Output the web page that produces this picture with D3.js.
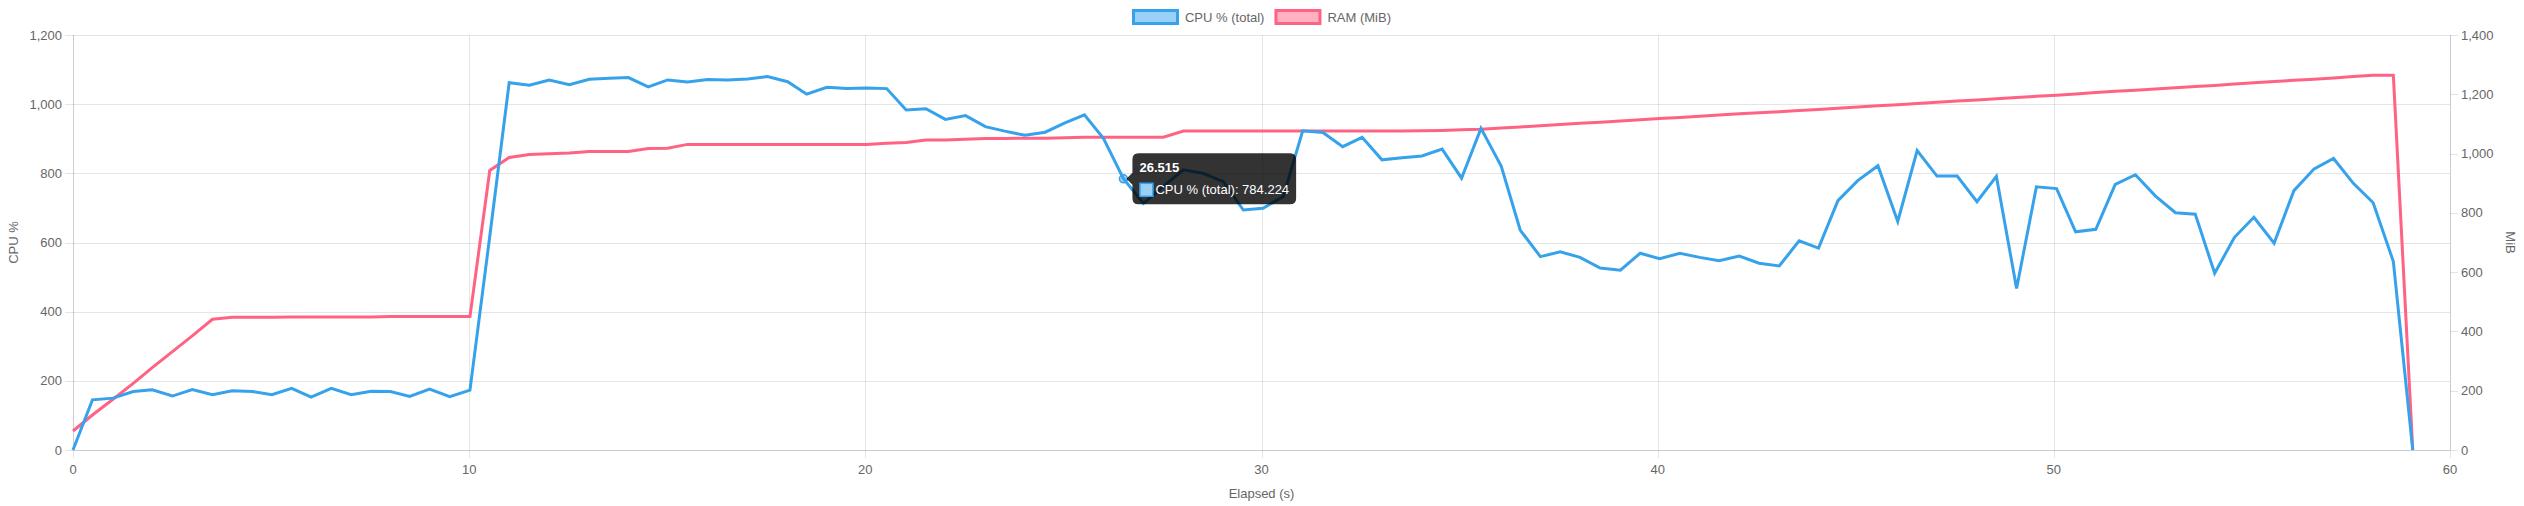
<!DOCTYPE html>
<html><head><meta charset="utf-8">
<script src="https://cdn.jsdelivr.net/npm/d3@7"></script>
<style>html,body{margin:0;padding:0;background:#fff;} svg{display:block;}</style>
</head><body><svg id="chart" width="2524" height="506"></svg>
<script>
// ---- data ----
const times = [0,0.49,1.01,1.52,2.0,2.51,3.01,3.52,4.02,4.53,5.02,5.52,6.01,6.52,7.02,7.53,8.01,8.5,9.0,9.51,
10.02,10.52,11.01,11.52,12.02,12.53,13.03,13.54,14.02,14.52,15.01,15.51,16.02,16.52,17.03,17.53,18.04,18.52,19.03,19.53,
20.03,20.54,21.03,21.53,22.02,22.53,23.03,23.52,24.03,24.54,25.04,25.53,26.01,26.515,27.02,27.52,28.03,28.53,29.04,29.54,
30.04,30.55,31.04,31.55,32.05,32.54,33.04,33.55,34.05,34.56,35.05,35.54,36.05,36.53,37.04,37.54,38.04,38.55,39.06,39.56,
40.05,40.56,41.06,41.55,42.06,42.56,43.07,43.57,44.06,44.55,45.05,45.56,46.06,46.55,47.05,47.56,48.06,48.55,49.06,49.56,
50.07,50.55,51.06,51.55,52.06,52.56,53.07,53.57,54.06,54.56,55.05,55.56,56.06,56.57,57.06,57.56,58.06,58.57,59.06];
const cpuValues = [0,145,150,169,174,156,175,160,171,169,
160,178,153,178,160,170,169,155,176,154,
173,618,1062,1055,1070,1056,1072,1075,1077,1050,
1070,1064,1071,1070,1073,1080,1065,1029,1049,1045,
1047,1045,983,987,956,967,935,922,910,919,
946,969,901,784.224,713,762,810,800,776,694,
699,733,923,918,877,904,839,845,850,870,
786,930,821,636,559,573,557,526,520,569,
553,569,557,547,561,540,532,605,584,721,
779,822,661,866,792,792,718,791,467,761,
756,631,638,768,796,735,686,682,511,615,
673,598,750,813,843,771,715,545,0];
const ramValues = [64,118,171,225,278,332,385,441,448,448,
448,449,449,449,449,449,450,450,450,450,
450,943,987,997,999,1002,1007,1007,1007,1017,
1018,1031,1031,1031,1031,1031,1031,1031,1031,1031,
1031,1035,1037,1046,1046,1048,1051,1051,1052,1052,
1053,1055,1055,1055,1055,1055,1076,1076,1076,1076,
1076,1076,1076,1076,1076,1076,1076,1076,1077,1078,
1080,1082,1086,1090,1094,1098,1102,1106,1110,1114,
1118,1122,1126,1130,1134,1138,1141,1145,1149,1153,
1157,1161,1165,1169,1173,1177,1181,1185,1189,1193,
1197,1201,1206,1210,1214,1218,1222,1226,1230,1235,
1239,1243,1247,1251,1255,1260,1264,1264,0];
const seriesNames = ["CPU % (total)", "RAM (MiB)"];
const xTicks = [0,10,20,30,40,50,60];
const cpuTicks = [0,200,400,600,800,1000,1200];
const ramTicks = [0,200,400,600,800,1000,1200,1400];
const xTitle = "Elapsed (s)";
const yTitle = "CPU %";
const y1Title = "MiB";
const hoverIndex = 53;

// ---- style/layout ----
const W = 2524, H = 506;
const pLeft = 73, pRight = 2450, pTop = 35, pBottom = 450;
const FONT = "'Helvetica Neue', Helvetica, Arial, 'Liberation Sans', sans-serif";
const FS = 13;
const blue = "rgb(54,162,235)", blueFill = "rgba(54,162,235,0.5)";
const pink = "rgb(255,99,132)", pinkFill = "rgba(255,99,132,0.5)";
const grid = "rgba(0,0,0,0.1)";
const textCol = "#666";

const svg = d3.select("#chart");
svg.attr("font-family", FONT);

const x = d3.scaleLinear().domain([0, 60]).range([pLeft, pRight]);
const y = d3.scaleLinear().domain([0, 1200]).range([pBottom, pTop]);
const y1 = d3.scaleLinear().domain([0, 1400]).range([pBottom, pTop]);
const fmt = d3.format(",");
const px = v => Math.round(v) + 0.5;

const g = svg.append("g");
g.selectAll(".hg").data(cpuTicks).join("line")
  .attr("x1", pLeft - 8).attr("x2", pRight)
  .attr("y1", d => px(y(d))).attr("y2", d => px(y(d)))
  .attr("stroke", grid).attr("stroke-width", 1);
g.selectAll(".vg").data(xTicks).join("line")
  .attr("x1", d => px(x(d))).attr("x2", d => px(x(d)))
  .attr("y1", pTop).attr("y2", pBottom + 8)
  .attr("stroke", grid).attr("stroke-width", 1);
g.selectAll(".rt").data(ramTicks).join("line")
  .attr("x1", pRight).attr("x2", pRight + 8)
  .attr("y1", d => px(y1(d))).attr("y2", d => px(y1(d)))
  .attr("stroke", grid).attr("stroke-width", 1);
g.append("line").attr("x1", px(pLeft)).attr("x2", px(pLeft)).attr("y1", pTop).attr("y2", pBottom).attr("stroke", grid);
g.append("line").attr("x1", px(pRight)).attr("x2", px(pRight)).attr("y1", pTop).attr("y2", pBottom).attr("stroke", grid);
g.append("line").attr("x1", pLeft).attr("x2", pRight).attr("y1", px(pBottom)).attr("y2", px(pBottom)).attr("stroke", grid);

const tl = svg.append("g").attr("fill", textCol).attr("font-size", FS);
tl.selectAll(".yl").data(cpuTicks).join("text")
  .attr("x", pLeft - 11).attr("y", d => y(d)).attr("dy", "0.35em")
  .attr("text-anchor", "end").text(d => fmt(d));
tl.selectAll(".y1l").data(ramTicks).join("text")
  .attr("x", pRight + 11).attr("y", d => y1(d)).attr("dy", "0.35em")
  .attr("text-anchor", "start").text(d => fmt(d));
tl.selectAll(".xl").data(xTicks).join("text")
  .attr("x", d => x(d)).attr("y", 469).attr("dy", "0.35em")
  .attr("text-anchor", "middle").text(d => fmt(d));

tl.append("text").attr("transform", `translate(13,${(pTop+pBottom)/2}) rotate(-90)`)
  .attr("text-anchor", "middle").attr("dy", "0.35em").text(yTitle);
tl.append("text").attr("transform", `translate(2511,${(pTop+pBottom)/2}) rotate(90)`)
  .attr("text-anchor", "middle").attr("dy", "0.35em").text(y1Title);
tl.append("text").attr("x", (pLeft+pRight)/2).attr("y", 493).attr("dy", "0.35em")
  .attr("text-anchor", "middle").text(xTitle);

const ramLine = d3.line().x((d, i) => x(times[i])).y(d => y1(d));
const cpuLine = d3.line().x((d, i) => x(times[i])).y(d => y(d));
svg.append("path").datum(ramValues).attr("d", ramLine)
  .attr("fill", "none").attr("stroke", pink).attr("stroke-width", 3).attr("stroke-linejoin", "miter");
svg.append("path").datum(cpuValues).attr("d", cpuLine)
  .attr("fill", "none").attr("stroke", blue).attr("stroke-width", 3).attr("stroke-linejoin", "miter");

const lg = svg.append("g").attr("font-size", FS).attr("fill", textCol);
const colors = [[blue, blueFill], [pink, pinkFill]];
const boxW = 44, boxH = 13, gapText = 6, gapItem = 10;
const widths = seriesNames.map(n => {
  const t = lg.append("text").text(n);
  const w = t.node().getComputedTextLength(); t.remove(); return w;
});
const itemW = widths.map(w => boxW + 3 + gapText + w);
const totalW = d3.sum(itemW) + gapItem * (itemW.length - 1);
let lx = (pLeft + pRight) / 2 - totalW / 2;
const ly = 17;
seriesNames.forEach((n, i) => {
  lg.append("rect").attr("x", lx + 1.5).attr("y", ly - boxH / 2).attr("width", boxW).attr("height", boxH)
    .attr("fill", colors[i][1]).attr("stroke", colors[i][0]).attr("stroke-width", 3);
  lg.append("text").attr("x", lx + boxW + 3 + gapText).attr("y", ly).attr("dy", "0.35em").text(n);
  lx += itemW[i] + gapItem;
});

const hx = x(times[hoverIndex]), hy = y(cpuValues[hoverIndex]);
svg.append("circle").attr("cx", hx).attr("cy", hy).attr("r", 4)
  .attr("fill", blueFill).attr("stroke", blue).attr("stroke-width", 1.5);

const tt = svg.append("g").attr("font-size", FS);
const bodyText = `${seriesNames[0]}: ${cpuValues[hoverIndex]}`;
const tmp = tt.append("text").text(bodyText);
const bodyW = tmp.node().getComputedTextLength(); tmp.remove();
const pad = 7, caret = 6;
const bx = hx + 2 + caret + 1, bw = pad + 14 + 2 + bodyW + pad, bh = 51;
const by = hy - bh / 2;
tt.append("path")
  .attr("d", `M${bx + 6},${by} H${bx + bw - 6} Q${bx + bw},${by} ${bx + bw},${by + 6} V${by + bh - 6} Q${bx + bw},${by + bh} ${bx + bw - 6},${by + bh} H${bx + 6} Q${bx},${by + bh} ${bx},${by + bh - 6} V${hy + caret} L${bx - caret},${hy} L${bx},${hy - caret} V${by + 6} Q${bx},${by} ${bx + 6},${by} Z`)
  .attr("fill", "rgba(0,0,0,0.8)");
tt.append("text").attr("x", bx + pad).attr("y", by + pad + 7.5).attr("dy", "0.35em")
  .attr("fill", "#fff").attr("font-weight", "bold").text(String(times[hoverIndex]));
const rowY = by + pad + 15 + 7 + 7.5;
tt.append("rect").attr("x", bx + pad + 0.5).attr("y", rowY - 6.5).attr("width", 13).attr("height", 13)
  .attr("fill", "#fff");
tt.append("rect").attr("x", bx + pad + 0.5).attr("y", rowY - 6.5).attr("width", 13).attr("height", 13)
  .attr("fill", blueFill).attr("stroke", blue).attr("stroke-width", 1.5);
tt.append("text").attr("x", bx + pad + 16).attr("y", rowY).attr("dy", "0.35em")
  .attr("fill", "#fff").text(bodyText);
</script>
</body></html>
